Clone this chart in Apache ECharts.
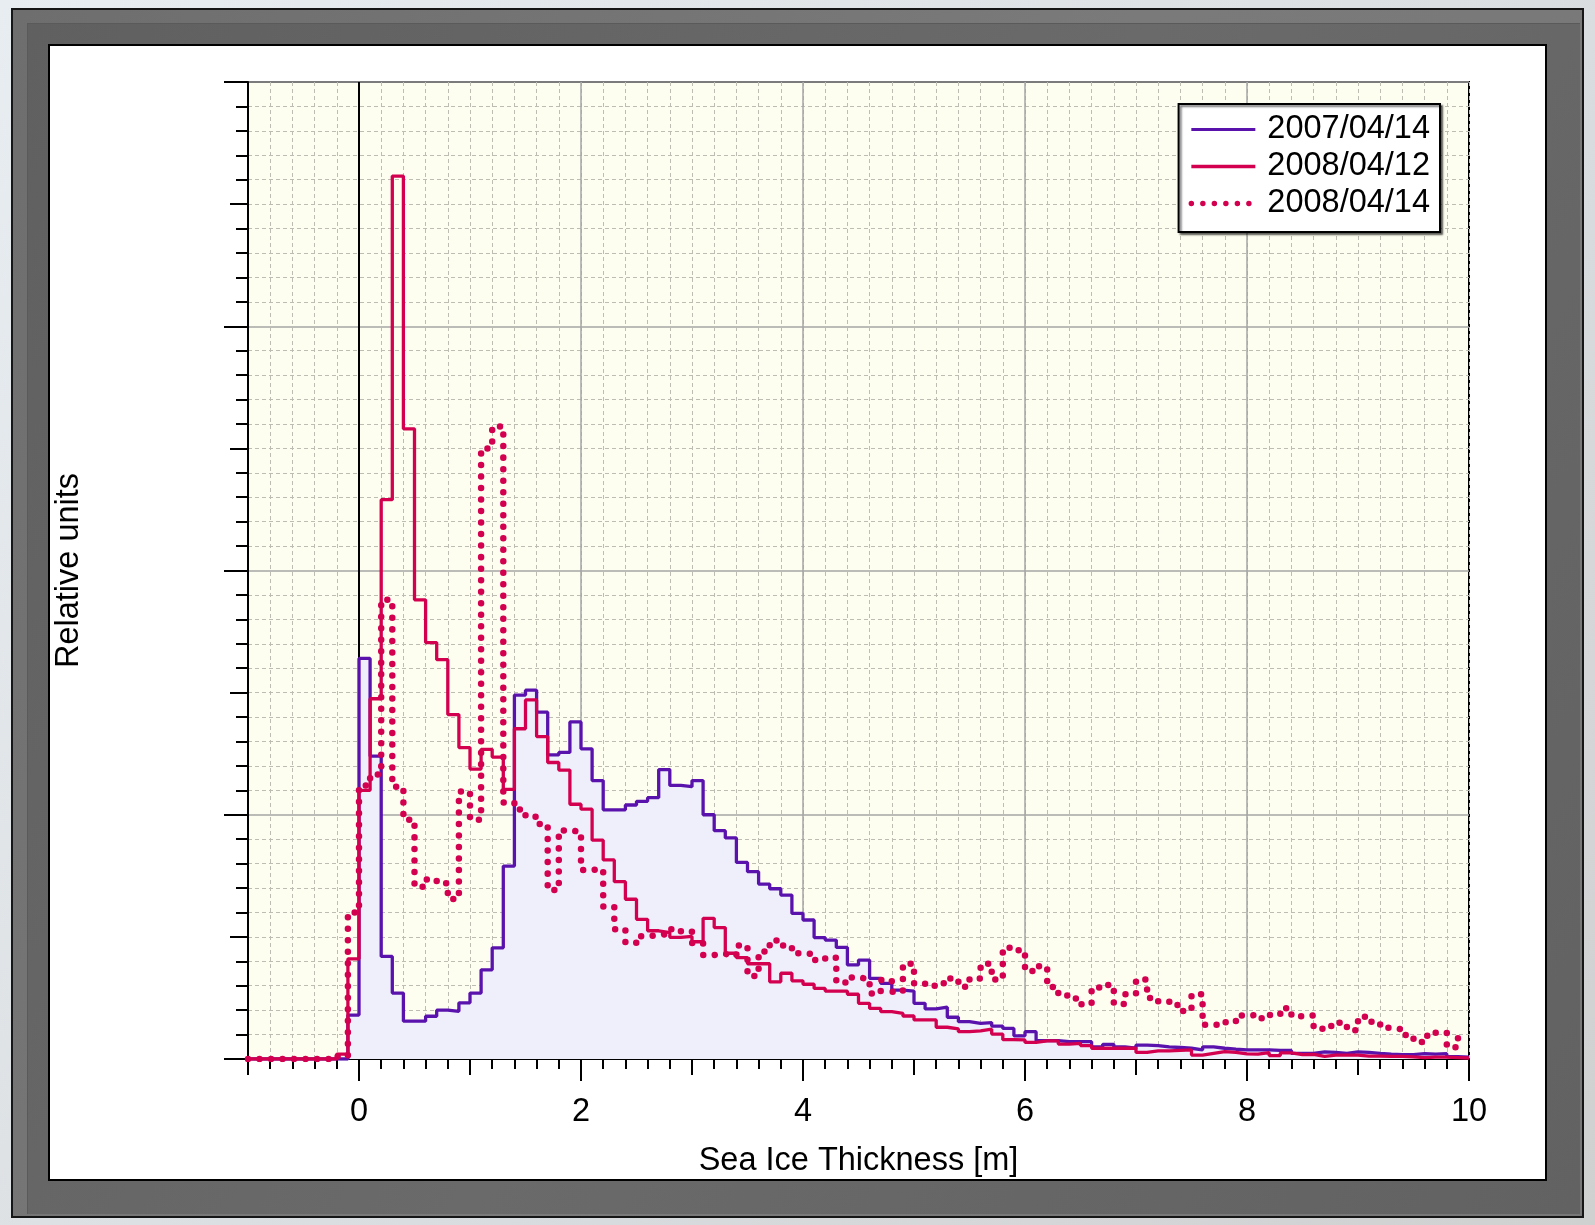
<!DOCTYPE html>
<html>
<head>
<meta charset="utf-8">
<script src="https://cdn.jsdelivr.net/npm/echarts@6/dist/echarts.min.js"></script>
<style>
  html, body { margin:0; padding:0; width:1595px; height:1225px; overflow:hidden; }
  body { position:relative; background:linear-gradient(135deg,#e8edf1 0%,#dde1e4 45%,#cfd0d0 100%); }
  #bezel { position:absolute; left:11px; top:8px; width:1573px; height:1210px; box-sizing:border-box;
           border:2px solid #161616; background:linear-gradient(120deg,#6e6e6e 0%,#7a7a7a 50%,#777 100%); }
  #bezelIn { position:absolute; left:27px; top:23px; width:1553px; height:1191px; box-sizing:border-box;
           background:linear-gradient(120deg,#606060 0%,#6a6a6a 50%,#626262 100%); border-top:1px solid #5a5a5a; border-left:1px solid #5a5a5a; }
  #panel { position:absolute; left:48px; top:44px; width:1499px; height:1137px; box-sizing:border-box;
           border:2px solid #000; background:#fff; }
  #chart { position:absolute; left:0; top:0; width:1595px; height:1225px; }
</style>
</head>
<body>
<div id="bezel"></div>
<div id="bezelIn"></div>
<div id="panel"></div>
<div id="chart"></div>
<script>
// ---- data (histogram bins of width 0.1 m, starting at -1.0 m) ----
const binStart = -1.0;
const binWidth = 0.1;
const seriesNames = ['2007/04/14', '2008/04/12', '2008/04/14'];

const ice20070414 = [
  0,0,0,0,0,0,0,0,0,0.18,
  1.64,1.24,0.42,0.27,0.155,0.155,0.175,0.2,0.195,0.23,
  0.27,0.365,0.455,0.79,1.49,1.51,1.42,1.245,1.255,1.38,
  1.27,1.14,1.02,1.02,1.04,1.055,1.07,1.185,1.12,1.115,
  1.14,1.0,0.935,0.905,0.805,0.767,0.716,0.697,0.671,0.596,
  0.569,0.497,0.487,0.457,0.385,0.405,0.33,0.31,0.282,0.278,
  0.228,0.205,0.212,0.171,0.153,0.146,0.149,0.135,0.125,0.095,
  0.112,0.075,0.075,0.071,0.071,0.071,0.05,0.06,0.05,0.044,
  0.057,0.055,0.05,0.047,0.044,0.037,0.05,0.044,0.04,0.037,
  0.037,0.037,0.035,0.035,0.023,0.023,0.029,0.027,0.023,0.029,
  0.027,0.023,0.02,0.018,0.018,0.022,0.02,0.022,0.01,0.008
];
const ice20080412 = [
  0,0,0,0,0,0,0,0,0.02,0.41,
  1.10,1.475,2.29,3.615,2.58,1.88,1.705,1.635,1.41,1.275,
  1.187,1.268,1.236,1.104,1.352,1.47,1.32,1.214,1.183,1.043,
  1.023,0.896,0.815,0.726,0.654,0.572,0.525,0.517,0.498,0.502,
  0.48,0.576,0.538,0.433,0.415,0.39,0.39,0.316,0.351,0.32,
  0.306,0.289,0.278,0.278,0.265,0.228,0.207,0.194,0.187,0.176,
  0.16,0.16,0.13,0.123,0.112,0.115,0.122,0.102,0.079,0.078,
  0.068,0.074,0.074,0.061,0.064,0.055,0.044,0.044,0.044,0.044,
  0.027,0.033,0.033,0.035,0.037,0.016,0.023,0.03,0.027,0.021,
  0.02,0.026,0.014,0.025,0.018,0.019,0.011,0.016,0.016,0.016,
  0.012,0.012,0.011,0.011,0.009,0.006,0.008,0.008,0.006,0.004
];
const ice20080414 = [
  0,0,0,0,0,0,0,0,0.01,0.6,
  1.12,1.165,1.88,1.115,0.98,0.705,0.735,0.72,0.655,1.095,
  0.98,2.5,2.59,1.05,1.022,0.992,0.962,0.692,0.936,0.93,
  0.774,0.777,0.624,0.531,0.476,0.503,0.506,0.514,0.531,0.521,
  0.475,0.426,0.43,0.423,0.465,0.34,0.44,0.485,0.465,0.433,
  0.43,0.405,0.415,0.313,0.334,0.327,0.268,0.323,0.275,0.39,
  0.31,0.30,0.31,0.33,0.296,0.33,0.39,0.325,0.455,0.445,
  0.36,0.38,0.295,0.26,0.248,0.224,0.293,0.303,0.225,0.265,
  0.325,0.25,0.236,0.221,0.197,0.265,0.14,0.14,0.15,0.178,
  0.18,0.167,0.18,0.208,0.175,0.178,0.124,0.135,0.148,0.118,
  0.173,0.153,0.128,0.121,0.098,0.07,0.095,0.108,0.048,0.085
];

const xLabelTicks = [0, 2, 4, 6, 8, 10];
const xMajorGrid = [2, 4, 6, 8];
const xZeroLine = [0];

// ---- build step data ----
function toSteps(values) {
  const pts = values.map((v, i) => [+(binStart + i * binWidth).toFixed(2), v]);
  pts.push([+(binStart + values.length * binWidth).toFixed(2), values[values.length - 1]]);
  return pts;
}

const FONT = "'Liberation Sans', Arial, sans-serif";
const PURPLE = '#5a12ad';
const RED = '#d2004f';
const DOT_STYLE = { color: RED, width: 6.5, type: [0.01, 11.5], cap: 'round', join: 'round' };

const chart = echarts.init(document.getElementById('chart'), null, { renderer: 'canvas' });

const option = {
  animation: false,
  backgroundColor: 'transparent',
  textStyle: { fontFamily: FONT },
  grid: {
    left: 248, right: 126, top: 82, bottom: 166,
    show: true, backgroundColor: '#fefef0', borderColor: '#000', borderWidth: 2
  },
  legend: {
    orient: 'vertical', right: 155, top: 104,
    data: [
      { name: seriesNames[0], lineStyle: { width: 3, color: PURPLE } },
      { name: seriesNames[1], lineStyle: { width: 3.3, color: RED } },
      { name: seriesNames[2], lineStyle: { width: 5.5, color: RED, type: [0.01, 11.5], cap: 'round' } }
    ],
    itemWidth: 64, itemHeight: 14, itemGap: 4,
    padding: [9, 10, 12, 10],
    backgroundColor: '#fff', borderColor: '#000', borderWidth: 2,
    shadowColor: 'rgba(0,0,0,0.55)', shadowBlur: 2, shadowOffsetX: 2, shadowOffsetY: 2,
    itemStyle: { opacity: 0, borderWidth: 0 },
    textStyle: { fontSize: 32.5, color: '#000', fontFamily: FONT, padding: [0, 0, 0, 7] }
  },
  xAxis: [
    {
      type: 'value', min: -1, max: 10, interval: 0.2, position: 'bottom',
      axisLine: { show: true, onZero: false, lineStyle: { color: '#000', width: 2 } },
      axisTick: { show: true, length: 10, lineStyle: { color: '#000', width: 2 } },
      axisLabel: { show: false },
      splitLine: { show: true, lineStyle: { color: '#bdbdb4', width: 1, type: [4, 3] } }
    },
    {
      type: 'value', min: -1, max: 10, interval: 1, position: 'bottom',
      axisLine: { show: false, onZero: false },
      axisTick: { show: true, length: 16, lineStyle: { color: '#000', width: 2 } },
      axisLabel: { show: false },
      splitLine: { show: false }
    },
    {
      type: 'value', min: -1, max: 10, position: 'bottom',
      axisLine: { show: false, onZero: false },
      axisTick: { show: true, length: 22, customValues: xLabelTicks, lineStyle: { color: '#000', width: 2 } },
      axisLabel: { show: true, customValues: xLabelTicks, fontSize: 32.5, color: '#000', fontFamily: FONT, margin: 37 },
      splitLine: { show: false },
      name: 'Sea Ice Thickness [m]', nameLocation: 'middle', nameGap: 86,
      nameTextStyle: { fontSize: 32.5, color: '#000', fontFamily: FONT }
    }
  ],
  yAxis: [
    {
      type: 'value', min: 0, max: 4, interval: 1, position: 'left',
      axisLine: { show: true, onZero: false, lineStyle: { color: '#000', width: 2 } },
      axisTick: { show: true, length: 24, lineStyle: { color: '#000', width: 2 } },
      minorTick: { show: true, splitNumber: 10, length: 12, lineStyle: { color: '#000', width: 2 } },
      axisLabel: { show: false },
      splitLine: { show: true, lineStyle: { color: '#a4a4a4', width: 1.5 } },
      minorSplitLine: { show: true, lineStyle: { color: '#bdbdb4', width: 1, type: [4, 3] } },
      name: 'Relative units', nameLocation: 'middle', nameGap: 162,
      nameTextStyle: { fontSize: 32.5, color: '#000', fontFamily: FONT }
    },
    {
      type: 'value', min: 0, max: 4, interval: 0.5, position: 'left',
      axisLine: { show: false, onZero: false },
      axisTick: { show: true, length: 18, lineStyle: { color: '#000', width: 2 } },
      axisLabel: { show: false },
      splitLine: { show: false }
    }
  ],
  series: [
    {
      name: seriesNames[0], type: 'line', step: 'end', xAxisIndex: 0, yAxisIndex: 0,
      data: toSteps(ice20070414), symbol: 'none', showSymbol: false,
      lineStyle: { color: PURPLE, width: 3.3 }, itemStyle: { color: PURPLE },
      areaStyle: { color: '#efeffc', opacity: 1 },
      z: 2,
      markLine: {
        silent: true, symbol: 'none', z: 1, label: { show: false },
        lineStyle: { color: '#a4a4a4', width: 1.5, type: 'solid' },
        data: xMajorGrid.map(v => ({ xAxis: v })).concat(
          xZeroLine.map(v => ({ xAxis: v, lineStyle: { color: '#000', width: 2, type: 'solid' } })))
      }
    },
    {
      name: seriesNames[1], type: 'line', step: 'end', xAxisIndex: 0, yAxisIndex: 0,
      data: toSteps(ice20080412), symbol: 'none', showSymbol: false,
      lineStyle: { color: RED, width: 3.3 }, itemStyle: { color: RED },
      z: 3
    },
    {
      name: seriesNames[2], type: 'line', step: 'end', xAxisIndex: 0, yAxisIndex: 0,
      data: toSteps(ice20080414), symbol: 'none', showSymbol: false,
      lineStyle: DOT_STYLE, itemStyle: { color: RED },
      z: 4
    }
  ]
};
chart.setOption(option);
</script>
</body>
</html>
